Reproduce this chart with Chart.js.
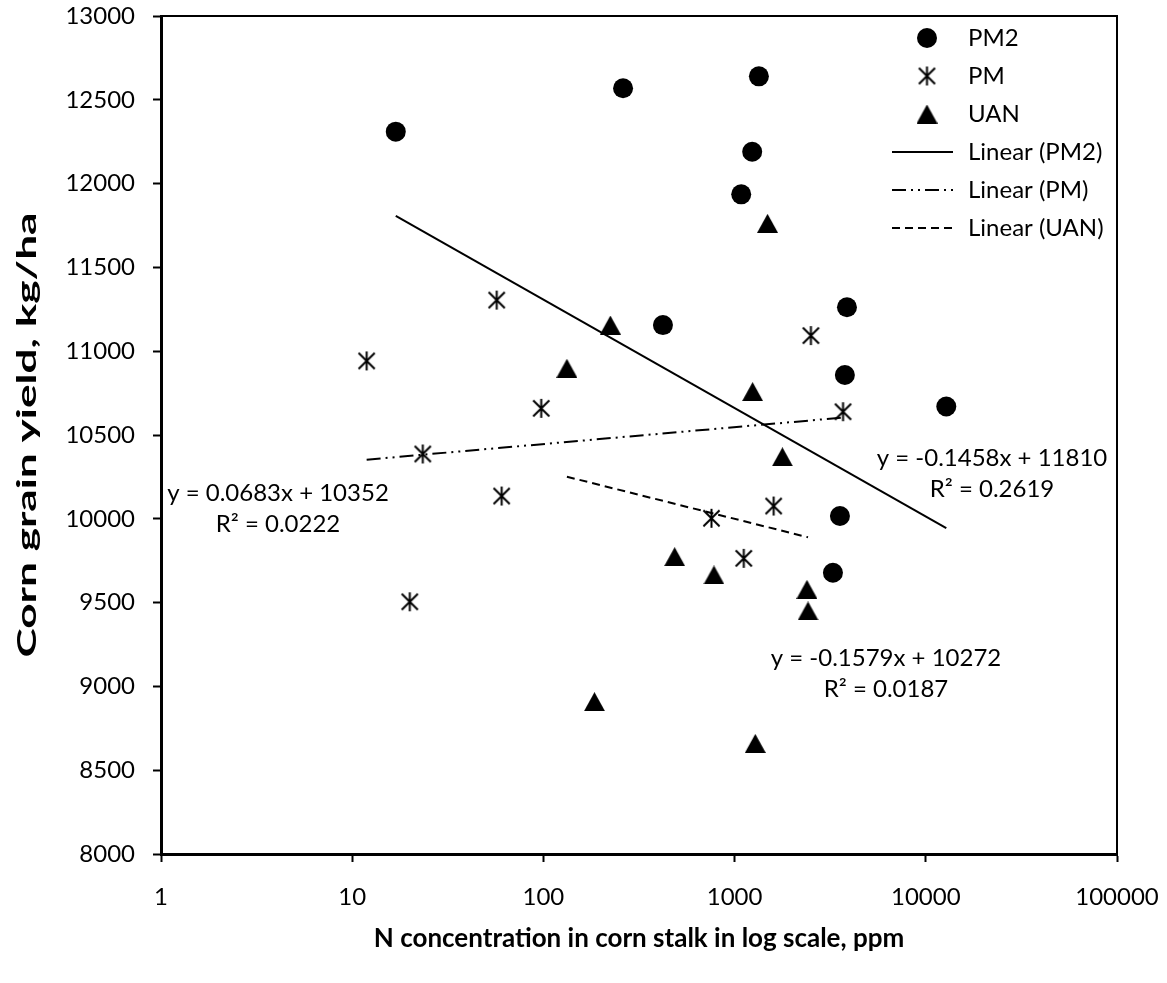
<!DOCTYPE html>
<html>
<head>
<meta charset="utf-8">
<script src="https://cdn.jsdelivr.net/npm/chart.js@4.4.0/dist/chart.umd.min.js"></script>
<style>
  html, body { margin: 0; padding: 0; background: #fff; }
  #wrap { width: 1167px; height: 983px; }
</style>
</head>
<body>
<div id="wrap"><canvas id="yieldChart" width="1167" height="983"></canvas></div>
<script>
// N concentration in corn stalk (ppm, log axis) vs corn grain yield (kg/ha)
const pm2X = [16.9, 261, 1340, 1236, 1083, 422, 3870, 3773, 3556, 3268, 12800];
const pm2Y = [12310, 12569, 12640, 12190, 11936, 11156, 11262, 10858, 10017, 9678, 10670];

const pmX = [11.9, 57, 2506, 97.4, 3690, 23.4, 60.5, 1600, 757, 1117, 20];
const pmY = [10942, 11305, 11093, 10659, 10639, 10387, 10136, 10076, 10003, 9764, 9505];

const uanX = [132.7, 224, 1487, 1242, 1778, 486, 780, 2390, 2421, 185, 1283];
const uanY = [10898, 11156, 11763, 10759, 10370, 9774, 9665, 9579, 9450, 8909, 8660];

// trendline slope / intercept as printed on the chart
const pm2Fit = [-0.1458, 11810];
const pmFit = [0.0683, 10352];
const uanFit = [-0.1579, 10272];

const pm2R2 = '0.2619';
const pmR2 = '0.0222';
const uanR2 = '0.0187';

const xTicks = [1, 10, 100, 1000, 10000, 100000];
const yTicks = [8000, 8500, 9000, 9500, 10000, 10500, 11000, 11500, 12000, 12500, 13000];

const yTitle = 'Corn grain yield, kg/ha';
const xTitle = 'N concentration in corn stalk in log scale, ppm';

const FONT = 'Lato';

function toPoints(xs, ys) {
  return xs.map((x, i) => ({ x: x, y: ys[i] }));
}

// excel style trendline: straight segment between the smallest and largest x
function fitLine(xs, fit) {
  const lo = Math.min(...xs);
  const hi = Math.max(...xs);
  return [
    { x: lo, y: fit[0] * lo + fit[1] },
    { x: hi, y: fit[0] * hi + fit[1] },
  ];
}

function fmtFit(fit) {
  const sign = fit[0] < 0 ? '-' : '';
  return 'y = ' + sign + Math.abs(fit[0]).toFixed(4) + 'x + ' + fit[1];
}

// marker images
function makeStar(size) {
  const c = document.createElement('canvas');
  c.width = size;
  c.height = size;
  const g = c.getContext('2d');
  g.strokeStyle = '#000';
  g.lineWidth = 2;
  const m = size / 2;
  const r = size / 2 - 1;
  g.beginPath();
  g.moveTo(m, m - r);
  g.lineTo(m, m + r);
  g.moveTo(m - r * 0.85, m - r * 0.85);
  g.lineTo(m + r * 0.85, m + r * 0.85);
  g.moveTo(m + r * 0.85, m - r * 0.85);
  g.lineTo(m - r * 0.85, m + r * 0.85);
  g.stroke();
  return c;
}

function makeTriangle(w, h) {
  const c = document.createElement('canvas');
  c.width = w;
  c.height = h;
  const g = c.getContext('2d');
  g.fillStyle = '#000';
  g.beginPath();
  g.moveTo(w / 2, 0);
  g.lineTo(w, h);
  g.lineTo(0, h);
  g.closePath();
  g.fill();
  return c;
}

const starImg = makeStar(21);
const triImg = makeTriangle(21, 19);

const pmDash = [14, 5, 2, 5, 2, 5];
const uanDash = [8, 5];

// frame on the top and right of the plot area
const framePlugin = {
  id: 'frame',
  beforeDatasetsDraw(chart) {
    const a = chart.chartArea;
    const ctx = chart.ctx;
    ctx.save();
    ctx.strokeStyle = '#000';
    ctx.lineWidth = 2;
    ctx.beginPath();
    ctx.moveTo(a.left, a.top);
    ctx.lineTo(a.right, a.top);
    ctx.lineTo(a.right, a.bottom);
    ctx.stroke();
    ctx.restore();
  },
};

// legend inside the plot, trendline equations and the (stretched) y title
const notesPlugin = {
  id: 'notes',
  afterDraw(chart) {
    const ctx = chart.ctx;
    const a = chart.chartArea;
    ctx.save();
    ctx.fillStyle = '#000';
    ctx.strokeStyle = '#000';
    ctx.font = '24px ' + FONT;
    ctx.textBaseline = 'middle';

    const items = [
      { label: 'PM2', marker: 'circle' },
      { label: 'PM', marker: starImg },
      { label: 'UAN', marker: triImg },
      { label: 'Linear (PM2)', dash: [] },
      { label: 'Linear (PM)', dash: pmDash },
      { label: 'Linear (UAN)', dash: uanDash },
    ];
    const mx = 927;
    const tx = 968;
    let y = 38;
    items.forEach((it) => {
      if (it.marker === 'circle') {
        ctx.beginPath();
        ctx.arc(mx, y, 10, 0, Math.PI * 2);
        ctx.fill();
      } else if (it.marker) {
        ctx.drawImage(it.marker, mx - it.marker.width / 2, y - it.marker.height / 2);
      } else {
        ctx.lineWidth = 2;
        ctx.setLineDash(it.dash);
        ctx.beginPath();
        ctx.moveTo(892, y);
        ctx.lineTo(953, y);
        ctx.stroke();
        ctx.setLineDash([]);
      }
      ctx.textAlign = 'left';
      ctx.fillText(it.label, tx, y);
      y += 38;
    });

    const eqs = [
      { fit: pmFit, r2: pmR2, x: 278, y: 493 },
      { fit: pm2Fit, r2: pm2R2, x: 992, y: 458 },
      { fit: uanFit, r2: uanR2, x: 886, y: 658 },
    ];
    ctx.textAlign = 'center';
    eqs.forEach((e) => {
      ctx.fillText(fmtFit(e.fit), e.x, e.y);
      ctx.fillText('R² = ' + e.r2, e.x, e.y + 31);
    });

    // y axis title, rotated and drawn long like the original
    ctx.font = 'bold 27px ' + FONT;
    const w = ctx.measureText(yTitle).width;
    const stretch = 445 / w;
    ctx.translate(27, (a.top + a.bottom) / 2);
    ctx.rotate(-Math.PI / 2);
    ctx.scale(stretch, 1);
    ctx.fillText(yTitle, 0, 0);
    ctx.restore();
  },
};

Chart.defaults.font.family = FONT;
Chart.defaults.font.size = 24;
Chart.defaults.color = '#000';

new Chart(document.getElementById('yieldChart'), {
  type: 'scatter',
  data: {
    datasets: [
      {
        label: 'Linear (PM2)',
        type: 'line',
        data: fitLine(pm2X, pm2Fit),
        borderColor: '#000',
        borderWidth: 2,
        pointRadius: 0,
        fill: false,
      },
      {
        label: 'Linear (PM)',
        type: 'line',
        data: fitLine(pmX, pmFit),
        borderColor: '#000',
        borderWidth: 2,
        borderDash: pmDash,
        pointRadius: 0,
        fill: false,
      },
      {
        label: 'Linear (UAN)',
        type: 'line',
        data: fitLine(uanX, uanFit),
        borderColor: '#000',
        borderWidth: 2,
        borderDash: uanDash,
        pointRadius: 0,
        fill: false,
      },
      {
        label: 'PM2',
        data: toPoints(pm2X, pm2Y),
        pointStyle: 'circle',
        pointRadius: 10,
        backgroundColor: '#000',
        borderWidth: 0,
      },
      {
        label: 'PM',
        data: toPoints(pmX, pmY),
        pointStyle: starImg,
        backgroundColor: '#000',
      },
      {
        label: 'UAN',
        data: toPoints(uanX, uanY),
        pointStyle: triImg,
        backgroundColor: '#000',
      },
    ],
  },
  options: {
    responsive: false,
    animation: false,
    layout: {
      padding: { left: 0, right: 50, top: 16, bottom: 0 },
    },
    plugins: {
      legend: { display: false },
      tooltip: { enabled: false },
    },
    scales: {
      x: {
        type: 'logarithmic',
        min: 1,
        max: 100000,
        afterBuildTicks: (s) => {
          s.ticks = xTicks.map((v) => ({ value: v }));
        },
        afterFit: (s) => {
          s.height = 129;
          s.paddingLeft = 0;
          s.paddingRight = 0;
        },
        ticks: {
          padding: 21,
          maxRotation: 0,
          autoSkip: false,
          callback: (v) => String(v),
        },
        grid: {
          drawOnChartArea: false,
          drawTicks: true,
          tickLength: 8,
          tickWidth: 2,
          tickColor: '#000',
        },
        border: { display: true, color: '#000', width: 3 },
        title: {
          display: true,
          text: xTitle,
          font: { size: 26, weight: 'bold' },
          padding: { top: 0, bottom: 29 },
        },
      },
      y: {
        min: 8000,
        max: 13000,
        afterBuildTicks: (s) => {
          s.ticks = yTicks.map((v) => ({ value: v }));
        },
        afterFit: (s) => {
          s.width = 161;
          s.paddingTop = 0;
          s.paddingBottom = 0;
        },
        ticks: {
          padding: 18,
          callback: (v) => String(v),
        },
        grid: {
          drawOnChartArea: false,
          drawTicks: true,
          tickLength: 8,
          tickWidth: 2,
          tickColor: '#000',
        },
        border: { display: true, color: '#000', width: 3 },
        title: { display: false },
      },
    },
  },
  plugins: [framePlugin, notesPlugin],
});
</script>
</body>
</html>
